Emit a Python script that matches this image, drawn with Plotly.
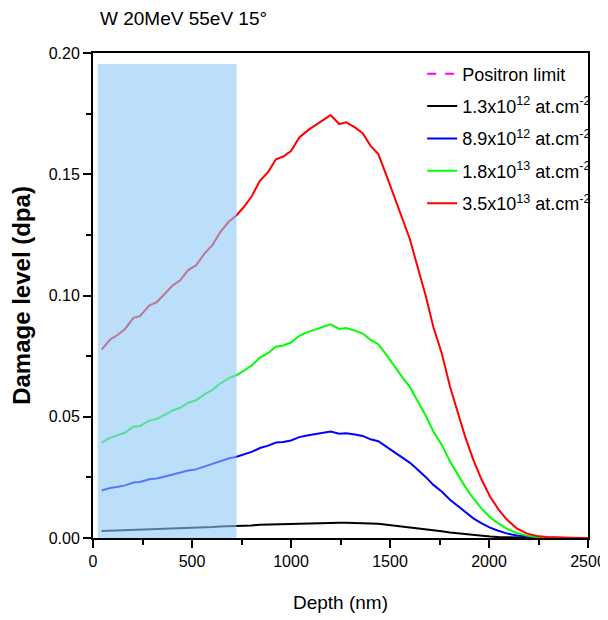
import plotly.graph_objects as go

depth_nm = [44, 86, 120, 162, 204, 237, 285, 322, 364, 402,
            440, 481, 520, 566, 604, 641, 684, 725, 763, 801,
            843, 885, 924, 961, 1000, 1042, 1088, 1146, 1200, 1244,
            1278, 1323, 1362, 1402, 1441, 1483, 1525, 1567, 1601, 1643,
            1680, 1719, 1761, 1803, 1845, 1879, 1921, 1963, 2005, 2047,
            2089, 2140, 2190, 2241, 2291, 2350, 2420, 2500]

dpa_35e13 = [0.0777, 0.0818, 0.0835, 0.0862, 0.0908, 0.0915, 0.0959, 0.0973, 0.1008, 0.1041,
             0.1063, 0.1105, 0.1124, 0.1176, 0.1209, 0.1259, 0.1303, 0.1331, 0.1366, 0.1408,
             0.1473, 0.1510, 0.1562, 0.1573, 0.1596, 0.1652, 0.1683, 0.1716, 0.1744, 0.1707,
             0.1714, 0.1693, 0.1669, 0.1617, 0.1583, 0.1493, 0.1397, 0.1300, 0.1231, 0.1107,
             0.1000, 0.0870, 0.0763, 0.0625, 0.0515, 0.0419, 0.0322, 0.0240, 0.0171, 0.0119,
             0.0077, 0.0040, 0.0019, 0.0008, 0.0004, 0.0001, 0.0, 0.0]

dpa_18e13 = [0.0393, 0.0413, 0.0422, 0.0435, 0.0459, 0.0462, 0.0484, 0.0491, 0.0509, 0.0526,
             0.0537, 0.0558, 0.0568, 0.0594, 0.0611, 0.0636, 0.0658, 0.0672, 0.0690, 0.0711,
             0.0744, 0.0763, 0.0789, 0.0794, 0.0806, 0.0834, 0.0850, 0.0867, 0.0881, 0.0862,
             0.0866, 0.0855, 0.0843, 0.0817, 0.0799, 0.0754, 0.0705, 0.0657, 0.0622, 0.0559,
             0.0505, 0.0439, 0.0385, 0.0316, 0.0260, 0.0212, 0.0163, 0.0121, 0.0086, 0.0060,
             0.0039, 0.0020, 0.0010, 0.0004, 0.0002, 0.0001, 0.0, 0.0]

dpa_89e12 = [0.0196, 0.0206, 0.0210, 0.0217, 0.0229, 0.0231, 0.0242, 0.0245, 0.0254, 0.0262,
             0.0268, 0.0278, 0.0283, 0.0296, 0.0305, 0.0317, 0.0328, 0.0335, 0.0344, 0.0355,
             0.0371, 0.0381, 0.0394, 0.0396, 0.0402, 0.0416, 0.0424, 0.0432, 0.0439, 0.0430,
             0.0432, 0.0427, 0.0421, 0.0407, 0.0399, 0.0376, 0.0352, 0.0328, 0.0310, 0.0279,
             0.0252, 0.0219, 0.0192, 0.0158, 0.0130, 0.0106, 0.0081, 0.0060, 0.0043, 0.0030,
             0.0019, 0.0010, 0.0005, 0.0002, 0.0001, 0.0, 0.0, 0.0]

dpa_13e12 = [0.0029, 0.0030, 0.0031, 0.0032, 0.0034, 0.0034, 0.0035, 0.0036, 0.0037, 0.0039,
             0.0039, 0.0041, 0.0042, 0.0044, 0.0045, 0.0047, 0.0048, 0.0049, 0.0051, 0.0052,
             0.0055, 0.0056, 0.0058, 0.0058, 0.0059, 0.0061, 0.0062, 0.0063, 0.0065, 0.0063,
             0.0063, 0.0063, 0.0062, 0.0060, 0.0059, 0.0055, 0.0052, 0.0048, 0.0046, 0.0041,
             0.0037, 0.0032, 0.0028, 0.0023, 0.0019, 0.0016, 0.0012, 0.0009, 0.0006, 0.0004,
             0.0003, 0.0001, 0.0001, 0.0, 0.0, 0.0, 0.0, 0.0]

series_names = ["1.3x10<sup>12</sup> at.cm<sup>-2</sup>",
                "8.9x10<sup>12</sup> at.cm<sup>-2</sup>",
                "1.8x10<sup>13</sup> at.cm<sup>-2</sup>",
                "3.5x10<sup>13</sup> at.cm<sup>-2</sup>"]
series_values = [dpa_13e12, dpa_89e12, dpa_18e13, dpa_35e13]
series_colors = ["#000000", "#0000FF", "#00FF00", "#FF0000"]

shaded_x = [24, 725]
shaded_y = [0, 0.1955]

x_ticks = [0, 500, 1000, 1500, 2000, 2500]
y_ticks = [0.00, 0.05, 0.10, 0.15, 0.20]

FONT = "Liberation Sans, Arial, sans-serif"

fig = go.Figure()

fig.add_trace(go.Scatter(
    x=[None], y=[None], mode="lines", name="Positron limit",
    line=dict(color="#FF00FF", width=2, dash="dash"),
    legendgroup="g0"))

for i, (nm, vals, col) in enumerate(zip(series_names, series_values, series_colors)):
    fig.add_trace(go.Scatter(
        x=depth_nm, y=vals, mode="lines", name=nm,
        line=dict(color=col, width=2), legendgroup="g%d" % (i + 1)))

fig.add_shape(type="rect", xref="x", yref="y",
              x0=shaded_x[0], x1=shaded_x[1], y0=shaded_y[0], y1=shaded_y[1],
              fillcolor="rgb(142,200,248)", opacity=0.6, line=dict(width=0),
              layer="above")

axis_common = dict(
    showline=True, linecolor="black", linewidth=2, mirror=True,
    ticks="outside", ticklen=8, tickwidth=2, tickcolor="black",
    showgrid=False, zeroline=False,
    tickfont=dict(family=FONT, size=16, color="black"),
)

fig.update_xaxes(
    range=[0, 2500], tickvals=x_ticks, ticktext=[str(v) for v in x_ticks],
    title=dict(text="Depth (nm)", font=dict(family=FONT, size=19, color="black"), standoff=26),
    minor=dict(dtick=250, ticks="outside", ticklen=5, tickwidth=2, tickcolor="black"),
    **axis_common)

fig.update_yaxes(
    range=[0, 0.20], tickvals=y_ticks, ticktext=["%.2f" % v for v in y_ticks],
    title=dict(text="<b>Damage level (dpa)</b>", font=dict(family=FONT, size=24, color="black"), standoff=14),
    minor=dict(dtick=0.025, ticks="outside", ticklen=5, tickwidth=2, tickcolor="black"),
    **axis_common)

fig.update_layout(
    width=600, height=612,
    margin=dict(l=85, r=20, t=45, b=82, autoexpand=False),
    paper_bgcolor="white", plot_bgcolor="white",
    title=dict(text="W 20MeV 55eV 15°", x=92 / 600, xanchor="left",
               y=1 - 10 / 612, yanchor="middle",
               font=dict(family=FONT, size=19, color="black")),
    legend=dict(x=0.665, y=0.995, xanchor="left", yanchor="top",
                font=dict(family=FONT, size=18, color="black"),
                bgcolor="rgba(0,0,0,0)", borderwidth=0,
                traceorder="grouped", tracegroupgap=6),
    showlegend=True,
)

fig.write_html("out.html")
